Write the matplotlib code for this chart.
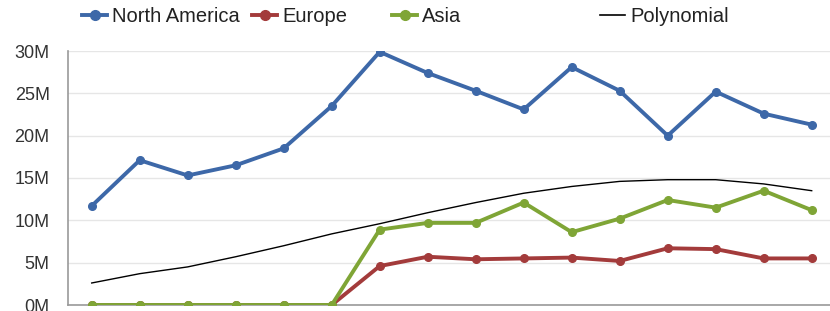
import matplotlib
matplotlib.use('Agg')
import matplotlib.pyplot as plt
from matplotlib.lines import Line2D
import numpy as np

# values in millions
north_america = [11.7, 17.1, 15.3, 16.5, 18.5, 23.5, 29.9, 27.4, 25.3, 23.1, 28.1, 25.3, 20.0, 25.2, 22.6, 21.3]
europe = [0, 0, 0, 0, 0, 0, 4.6, 5.7, 5.4, 5.5, 5.6, 5.2, 6.7, 6.6, 5.5, 5.5]
asia = [0, 0, 0, 0, 0, 0, 8.9, 9.7, 9.7, 12.1, 8.6, 10.2, 12.4, 11.5, 13.5, 11.2]
polynomial = [2.6, 3.7, 4.5, 5.7, 7.0, 8.4, 9.6, 10.9, 12.1, 13.2, 14.0, 14.6, 14.8, 14.8, 14.3, 13.5]
y_ticks = [0, 5, 10, 15, 20, 25, 30]
y_tick_labels = ["0M", "5M", "10M", "15M", "20M", "25M", "30M"]

plt.rcParams['font.family'] = ['Liberation Sans', 'DejaVu Sans']

blue = "#3D68A8"
red = "#A33B3B"
green = "#7FA536"

fig = plt.figure(figsize=(8.3, 3.11), dpi=100)
ax = fig.add_axes([67.7 / 830, 6 / 311, 768 / 830, 254 / 311])

x = np.arange(len(north_america))
ax.plot(x, polynomial, color="black", linewidth=1.0, zorder=2)
ax.plot(x, europe, color=red, linewidth=2.8, marker="o", markersize=5.5, zorder=3)
ax.plot(x, asia, color=green, linewidth=2.8, marker="o", markersize=5.5, zorder=4)
ax.plot(x, north_america, color=blue, linewidth=2.8, marker="o", markersize=5.5, zorder=5)

ax.set_xlim(-0.5, len(x) - 0.5)
ax.set_ylim(0, 30)
ax.set_yticks(y_ticks)
ax.set_yticklabels(y_tick_labels, fontsize=13, color="#333333")
ax.set_xticks([])
ax.tick_params(axis='y', length=0, pad=13)
ax.grid(True, axis='y', color="#E6E6E6", linewidth=1.0)
ax.set_axisbelow(True)
for side in ["top", "right"]:
    ax.spines[side].set_visible(False)
ax.spines["left"].set_color("#999999")
ax.spines["bottom"].set_color("#999999")
ax.spines["left"].set_linewidth(1.2)
ax.spines["bottom"].set_linewidth(1.2)

# legend entries placed one by one to match the uneven spacing
entries = [
    ("North America", blue, "o", 82),
    ("Europe", red, "o", 252),
    ("Asia", green, "o", 392),
    ("Polynomial", "black", None, 600),
]
for label, color, marker, xpos in entries:
    if marker:
        h = Line2D([], [], color=color, linewidth=2.8, marker=marker, markersize=7)
    else:
        h = Line2D([], [], color=color, linewidth=1.2)
    fig.legend(handles=[h], labels=[label], loc="center left",
               bbox_to_anchor=(xpos / 830, 1 - 17 / 311), frameon=False,
               fontsize=14.5, handlelength=1.25, handletextpad=0.25,
               borderpad=0, borderaxespad=0, labelcolor="#222222")

fig.savefig("out.png", dpi=100)
plt.close(fig)
